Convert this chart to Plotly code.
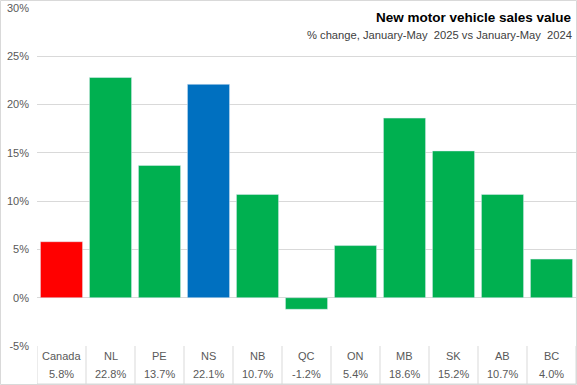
import plotly.graph_objects as go

categories = ["Canada", "NL", "PE", "NS", "NB", "QC", "ON", "MB", "SK", "AB", "BC"]
values = [5.8, 22.8, 13.7, 22.1, 10.7, -1.2, 5.4, 18.6, 15.2, 10.7, 4.0]
value_labels = ["5.8%", "22.8%", "13.7%", "22.1%", "10.7%", "-1.2%", "5.4%", "18.6%", "15.2%", "10.7%", "4.0%"]
y_ticks = [-5, 0, 5, 10, 15, 20, 25, 30]
y_tick_labels = ["-5%", "0%", "5%", "10%", "15%", "20%", "25%", "30%"]

colors = []
for c in categories:
    if c == "Canada":
        colors.append("#FF0000")
    elif c == "NS":
        colors.append("#0070C0")
    else:
        colors.append("#00B050")

W, H = 577, 385
ml, mr, mt, mb = 37, 1, 8, 39
pw = W - ml - mr
ph = H - mt - mb

def px_to_py(ypix):
    return (H - mb - ypix) / ph

def px_to_px(xpix):
    return (xpix - ml) / pw

xs = list(range(len(categories)))
fig = go.Figure(go.Bar(x=xs, y=values, marker_color=colors, width=0.86))

font_main = "Liberation Sans Narrow, Arial Narrow, Liberation Sans, Arial"
fig.update_layout(
    width=W, height=H,
    margin=dict(l=ml, r=mr, t=mt, b=mb),
    plot_bgcolor="white", paper_bgcolor="white",
    showlegend=False,
    font=dict(family="Liberation Sans, Arial", size=11, color="#595959"),
    xaxis=dict(range=[-0.5, len(categories) - 0.5], showticklabels=False,
               showgrid=False, zeroline=False, fixedrange=True),
    yaxis=dict(range=[-5, 30], tickmode="array", tickvals=y_ticks, ticktext=y_tick_labels,
               showgrid=True, gridcolor="#D9D9D9", gridwidth=1,
               zeroline=False, tickfont=dict(size=11, color="#595959"),
               ticks="", showline=False, ticklabelstandoff=7),
)

shapes = []
ybot = px_to_py(384)
for k in range(len(categories) + 1):
    shapes.append(dict(type="line", xref="x", yref="paper", x0=k - 0.5, x1=k - 0.5,
                       y0=0, y1=ybot, line=dict(color="#D9D9D9", width=1)))
shapes.append(dict(type="line", xref="x", yref="paper", x0=-0.5, x1=len(categories) - 0.5,
                   y0=ybot, y1=ybot, line=dict(color="#D9D9D9", width=1)))
shapes.append(dict(type="rect", xref="paper", yref="paper",
                   x0=px_to_px(0.5), x1=px_to_px(576.5), y0=px_to_py(384.5), y1=px_to_py(0.5),
                   line=dict(color="#D9D9D9", width=1)))
fig.update_layout(shapes=shapes)

annotations = []
for i, (c, v) in enumerate(zip(categories, value_labels)):
    annotations.append(dict(x=i, y=px_to_py(356), xref="x", yref="paper", text=c,
                            showarrow=False, xanchor="center", yanchor="middle",
                            font=dict(size=11, color="#595959")))
    annotations.append(dict(x=i, y=px_to_py(374), xref="x", yref="paper", text=v,
                            showarrow=False, xanchor="center", yanchor="middle",
                            font=dict(size=11, color="#595959")))
annotations.append(dict(x=px_to_px(574), y=px_to_py(17), xref="paper", yref="paper",
                        text="<b>New motor vehicle sales value</b>", showarrow=False,
                        xanchor="right", yanchor="middle",
                        font=dict(family=font_main, size=13.5, color="#000000")))
annotations.append(dict(x=px_to_px(574), y=px_to_py(35), xref="paper", yref="paper",
                        text="% change, January-May  2025 vs January-May  2024", showarrow=False,
                        xanchor="right", yanchor="middle",
                        font=dict(family=font_main, size=11.2, color="#404040")))
fig.update_layout(annotations=annotations)

fig.write_html("out.html", config={"displayModeBar": False},
               post_script="document.body.style.margin='0';document.body.style.padding='0';")
